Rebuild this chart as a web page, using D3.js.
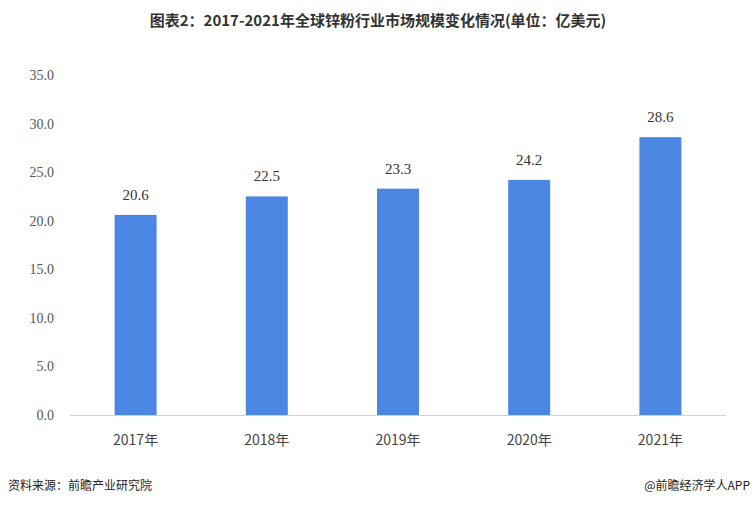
<!DOCTYPE html>
<html><head><meta charset="utf-8">
<script src="https://cdn.jsdelivr.net/npm/d3@7"></script>
<style>body{margin:0;background:#fff;font-family:"Noto Sans CJK SC","Noto Sans",sans-serif;}</style>
</head><body><svg id="c" width="756" height="506"></svg>
<script>
const categories=["2017年","2018年","2019年","2020年","2021年"];
const values=[20.6,22.5,23.3,24.2,28.6];
const yTicks=[0,5,10,15,20,25,30,35];
const svg=d3.select("#c");
const x=d3.scaleBand().domain(categories).range([70,726]).paddingInner(0.68).paddingOuter(0.34);
const y=d3.scaleLinear().domain([0,35]).range([415,75]);
svg.append("text").attr("x",378).attr("y",26).attr("text-anchor","middle").attr("font-size",15).attr("font-weight","bold").attr("fill","#333").text("图表2：2017-2021年全球锌粉行业市场规模变化情况(单位：亿美元)");
svg.append("g").selectAll("text").data(yTicks).join("text").attr("x",54).attr("y",d=>y(d)+5).attr("text-anchor","end").attr("font-size",14).attr("fill","#555").attr("font-family","Liberation Serif, serif").text(d=>d.toFixed(1));
svg.append("line").attr("x1",70).attr("x2",726).attr("y1",415.5).attr("y2",415.5).attr("stroke","#d0d0d0");
svg.append("g").selectAll("rect").data(values).join("rect").attr("x",(d,i)=>x(categories[i])).attr("width",x.bandwidth()).attr("y",d=>y(d)).attr("height",d=>415-y(d)).attr("fill","#4a86e2");
svg.append("g").selectAll("text").data(values).join("text").attr("x",(d,i)=>x(categories[i])+x.bandwidth()/2).attr("y",d=>y(d)-15).attr("text-anchor","middle").attr("font-size",15).attr("fill","#333").attr("font-family","Liberation Serif, serif").text(d=>d.toFixed(1));
svg.append("g").selectAll("text").data(categories).join("text").attr("x",d=>x(d)+x.bandwidth()/2).attr("y",445).attr("text-anchor","middle").attr("font-size",14).attr("fill","#444").text(d=>d);
svg.append("text").attr("x",8).attr("y",490).attr("font-size",12).attr("fill","#222").text("资料来源：前瞻产业研究院");
svg.append("text").attr("x",750).attr("y",490).attr("text-anchor","end").attr("font-size",12).attr("fill","#222").text("@前瞻经济学人APP");
</script></body></html>
